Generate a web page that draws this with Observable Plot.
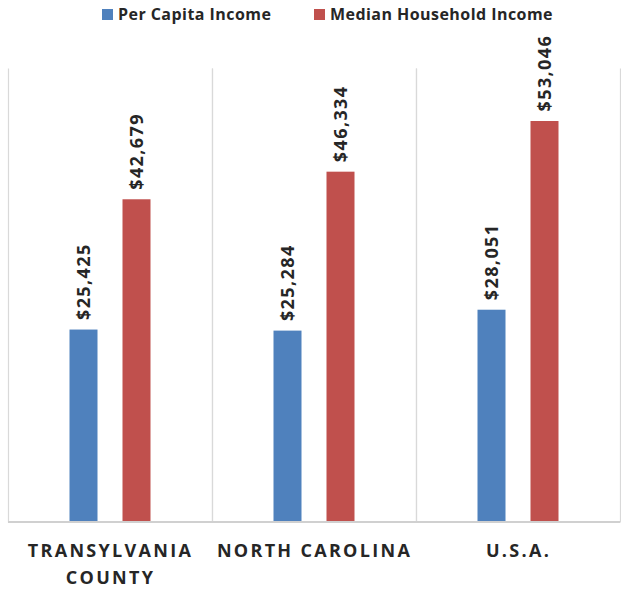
<!DOCTYPE html>
<html>
<head>
<meta charset="utf-8">
<script src="https://cdn.jsdelivr.net/npm/d3@7"></script>
<script src="https://cdn.jsdelivr.net/npm/@observablehq/plot@0.6"></script>
<style>
  body { margin: 0; background: #fff; font-family: "Open Sans", sans-serif; }
  #legend { height: 30px; position: relative; font-weight: bold; font-size: 16px; color: #262626; letter-spacing: 0.45px; }
  .item { position: absolute; top: 3px; display: flex; align-items: center; }
  .sw { width: 11px; height: 11px; margin-right: 5px; }
  #chart svg [aria-label="fx-axis tick label"] { letter-spacing: 2.3px; }
  #chart svg [aria-label="text"] { letter-spacing: 1.4px; }
</style>
</head>
<body>
<div id="legend"></div>
<div id="chart"></div>
<script>
const categories = ["TRANSYLVANIA\nCOUNTY", "NORTH CAROLINA", "U.S.A."];
const series = ["Per Capita Income", "Median Household Income"];
const perCapita = [25425, 25284, 28051];
const medianHousehold = [42679, 46334, 53046];
const colors = ["#4F81BD", "#C0504D"];

const rows = [];
categories.forEach((c, i) => {
  rows.push({category: c, series: series[0], value: perCapita[i]});
  rows.push({category: c, series: series[1], value: medianHousehold[i]});
});

// legend
const legend = document.getElementById("legend");
const lefts = [102, 314];
series.forEach((s, i) => {
  const it = document.createElement("div");
  it.className = "item";
  it.style.left = lefts[i] + "px";
  it.innerHTML = `<span class="sw" style="background:${colors[i]}"></span><span>${s}</span>`;
  legend.appendChild(it);
});

const fmt = d3.format("$,");

const chart = Plot.plot({
  width: 621,
  height: 560,
  marginTop: 38.5,
  marginBottom: 68.5,
  marginLeft: 7.5,
  marginRight: 0.5,
  style: {fontFamily: "'Open Sans', sans-serif", background: "#fff"},
  fx: {domain: categories, padding: 0, label: null},
  x: {domain: series, paddingInner: 0.48, paddingOuter: 1.15, axis: null},
  y: {domain: [0, 60000], axis: null},
  color: {domain: series, range: colors},
  marks: [
    Plot.frame({anchor: "left", stroke: "#d9d9d9", strokeWidth: 1.2}),
    Plot.frame({anchor: "right", stroke: "#d9d9d9", strokeWidth: 1.2}),
    Plot.barY(rows, {fx: "category", x: "series", y: "value", fill: "series"}),
    Plot.ruleY([0], {stroke: "#d0d0d0", strokeWidth: 1.8}),
    Plot.text(rows, {
      fx: "category", x: "series", y: "value", text: d => fmt(d.value),
      rotate: -90, textAnchor: "start", dy: -10,
      fontSize: 18, fontWeight: "bold", fill: "#262626"
    }),
    Plot.axisFx({
      anchor: "bottom", tickSize: 0, tickPadding: 16, label: null,
      fontSize: 18, fontWeight: "bold", fill: "#262626", lineHeight: 1.5
    })
  ]
});
document.getElementById("chart").appendChild(chart);
</script>
</body>
</html>
